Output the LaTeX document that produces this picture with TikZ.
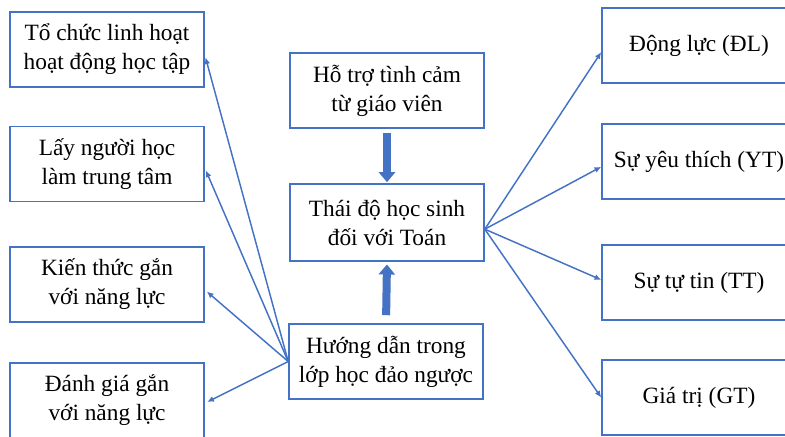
\documentclass[tikz,border=0pt]{standalone}
\usepackage{fontspec}
\setmainfont{Liberation Serif}
\usetikzlibrary{arrows.meta}
\definecolor{boxblue}{RGB}{68,114,196}

\tikzstyle{box} = [draw=boxblue, line width=1.2pt, minimum width=145.5pt, minimum height=56.25pt, inner sep=2pt, align=center, font=\fontsize{17.5}{21.75}\selectfont]
\tikzstyle{link} = [draw=boxblue, line width=1.1pt, -{Latex[length=5pt,width=4.5pt]}]
\tikzstyle{bigarrow} = [draw=boxblue, line width=6pt, -{Triangle[length=7.5pt,width=12pt]}]

\begin{document}
\begin{tikzpicture}[x=0.75pt, y=-0.75pt]
\useasboundingbox (0,0) rectangle (785,436);
\clip (0,0) rectangle (785,436);

\node[box] (tochuc) at (107,49.5) {Tổ chức linh hoạt\\hoạt động học tập};
\node[box] (layhoc) at (107,164) {Lấy người học\\làm trung tâm};
\node[box] (kienthuc) at (107,284.5) {Kiến thức gắn\\với năng lực};
\node[box] (danhgia) at (107,400.5) {Đánh giá gắn\\với năng lực};

\node[box] (hotro) at (387,90.5) {Hỗ trợ tình cảm\\từ giáo viên};
\node[box, minimum height=57.75pt] (thaido) at (387,222.5) {Thái độ học sinh\\đối với Toán};
\node[box] (huongdan) at (386,361.5) {Hướng dẫn trong\\lớp học đảo ngược};

\node[box] (dongluc) at (699,45.5) {Động lực (ĐL)};
\node[box] (yeuthich) at (699,161.5) {Sự yêu thích (YT)};
\node[box] (tutin) at (699,282.5) {Sự tự tin (TT)};
\node[box] (giatri) at (699,397.5) {Giá trị (GT)};

\draw[bigarrow, shorten <=3pt, shorten >=0.75pt] (hotro.south) -- (thaido.north);
\draw[bigarrow, shorten <=6pt, shorten >=2pt] (huongdan.north) -- (thaido.south);

\foreach \n/\s in {tochuc/-4pt, layhoc/-3pt, kienthuc/-4pt, danhgia/-2pt}
  \draw[link, shorten >=2pt] (huongdan.west) -- ([yshift=\s]\n.east);

\foreach \n/\s in {dongluc/-5pt, yeuthich/-4pt, tutin/2pt, giatri/0pt}
  \draw[link] ([yshift=-5pt]thaido.east) -- ([yshift=\s]\n.west);
\end{tikzpicture}
\end{document}
